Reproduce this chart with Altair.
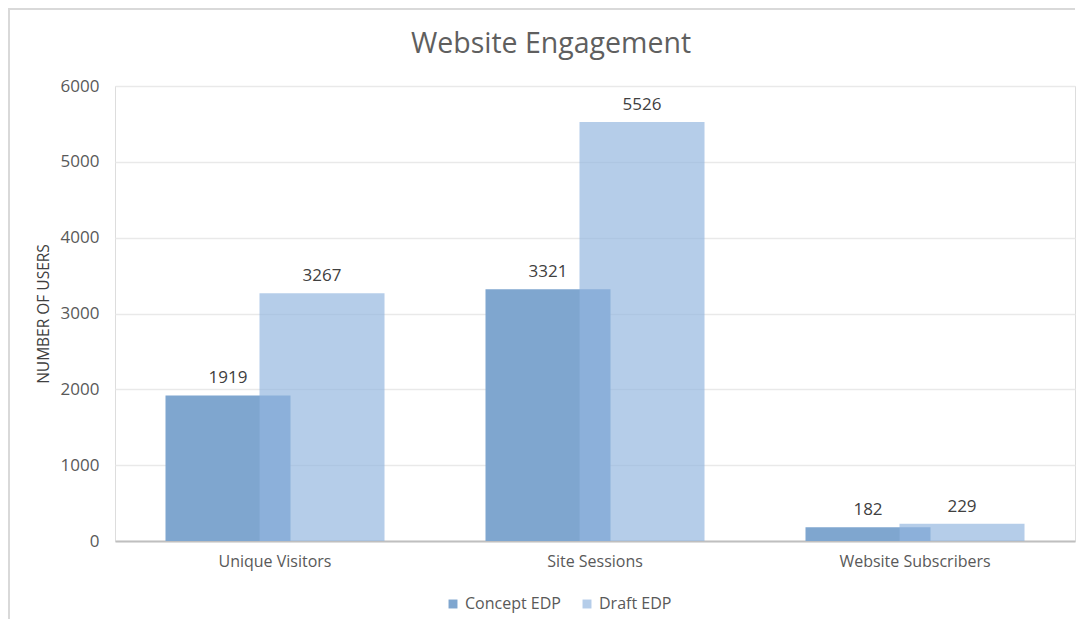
import altair as alt
import pandas as pd

categories = ["Unique Visitors", "Site Sessions", "Website Subscribers"]
concept_values = [1919, 3321, 182]
draft_values = [3267, 5526, 229]
series_names = ["Concept EDP", "Draft EDP"]
y_ticks = [0, 1000, 2000, 3000, 4000, 5000, 6000]

rows = []
for c, v in zip(categories, concept_values):
    rows.append({"category": c, "series": series_names[0], "value": v})
for c, v in zip(categories, draft_values):
    rows.append({"category": c, "series": series_names[1], "value": v})
df = pd.DataFrame(rows)

FONT = "Open Sans"
C_COLOR = "#7fa6cf"
D_COLOR = "#92b5df"
D_SWATCH = "#b5cde9"
BAR_W = 125

x_enc = alt.X("category:N", sort=categories,
              scale=alt.Scale(paddingInner=0, paddingOuter=0),
              axis=alt.Axis(title=None, labelAngle=0, labelFontSize=16, labelColor="#595959",
                            labelFont=FONT, ticks=False, domainColor="#bfbfbf", domainWidth=2,
                            labelPadding=12, grid=False))
y_enc = alt.Y("value:Q", scale=alt.Scale(domain=[0, 6000], nice=False),
              axis=alt.Axis(title="NUMBER OF USERS", values=y_ticks, format="d", labelFontSize=17,
                            labelColor="#595959", labelFont=FONT, titleFont=FONT,
                            titleFontSize=15.5, titleFontWeight="normal", titleColor="#404040",
                            titlePadding=9, labelPadding=16, ticks=False, domain=False,
                            gridColor="#e9e9e9", gridWidth=1.5))

base = alt.Chart(df)

concept_bars = base.transform_filter(alt.datum.series == series_names[0]).mark_bar(
    width=BAR_W, xOffset=-47).encode(
    x=x_enc, y=y_enc,
    color=alt.Color("series:N", scale=alt.Scale(domain=series_names, range=[C_COLOR, D_SWATCH]),
                    legend=alt.Legend(title=None, orient="none", legendX=330, legendY=510,
                                      direction="horizontal", symbolType="square",
                                      symbolSize=80, labelFontSize=16, labelFont=FONT,
                                      labelColor="#595959", columnPadding=18,
                                      symbolStrokeWidth=0)))

draft_bars = base.transform_filter(alt.datum.series == series_names[1]).mark_bar(
    width=BAR_W, xOffset=47, opacity=0.68, color=D_COLOR).encode(x=x_enc, y=y_enc)

concept_text = base.transform_filter(alt.datum.series == series_names[0]).mark_text(
    xOffset=-47, dy=-17, fontSize=17, font=FONT, color="#404040").encode(
    x=alt.X("category:N", sort=categories), y="value:Q", text="value:Q")
draft_text = base.transform_filter(alt.datum.series == series_names[1]).mark_text(
    xOffset=47, dy=-17, fontSize=17, font=FONT, color="#404040").encode(
    x=alt.X("category:N", sort=categories), y="value:Q", text="value:Q")

frame_left = base.mark_rule(color="#d9d9d9", strokeWidth=2, clip=False).encode(
    x=alt.value(-106), y=alt.value(-78), y2=alt.value(540))
frame_top = base.mark_rule(color="#d9d9d9", strokeWidth=2, clip=False).encode(
    x=alt.value(-106), x2=alt.value(960), y=alt.value(-77))

chart = alt.layer(frame_left, frame_top, concept_bars, draft_bars, concept_text, draft_text).properties(
    width=960, height=455,
    title=alt.TitleParams("Website Engagement", anchor="middle", fontSize=28.5, font=FONT,
                          fontWeight="normal", color="#5f5f5f", dx=-44, offset=0, dy=51),
    padding={"left": 107, "top": 78, "right": 1, "bottom": 78},
    autosize=alt.AutoSizeParams(type="none"),
).configure_view(stroke=None).configure(background="white")

chart.save("out.html", embed_options={"renderer": "svg", "actions": False})
